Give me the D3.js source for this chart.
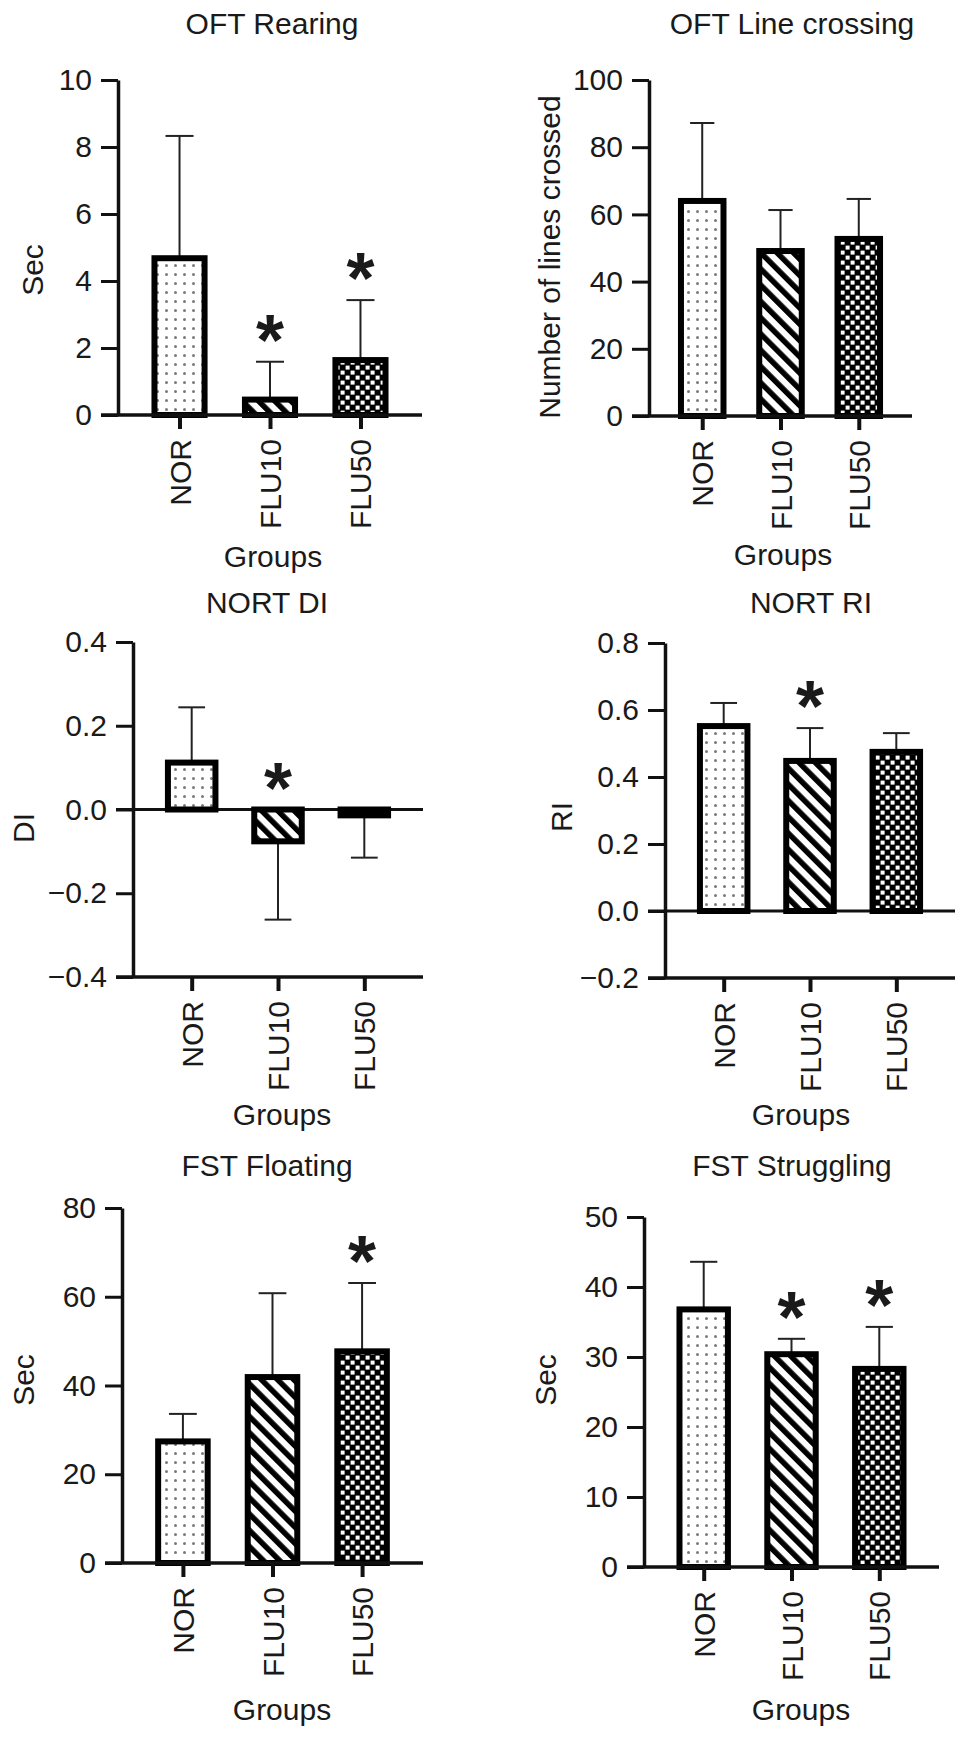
<!DOCTYPE html>
<html lang="en">
<head>
    <meta charset="UTF-8">
    <title>OFT, NORT and FST by group</title>
    <script src="https://d3js.org/d3.v7.min.js"></script>
    <style>
        body { margin: 0; background: #fff; }
        svg text { font-family: "Liberation Sans", Arial, Helvetica, sans-serif; fill: #1a1a1a; }
        .title, .ylab, .xlab { font-size: 30px; }
        .axis text { font-size: 30px; font-family: "Liberation Sans", Arial, sans-serif; fill: #1a1a1a; }
        .axis line, .axis path { stroke: #111; }
        .star { font-size: 72px; font-weight: bold; text-anchor: middle; }
    </style>
</head>
<body>
    <svg id="fig" width="969" height="1739"></svg>
    <script>
        const groups = ["NOR", "FLU10", "FLU50"];

        // OFT Rearing (Sec)
        const rearingMean = [4.68, 0.46, 1.64];
        const rearingSD = [3.65, 1.13, 1.79];
        const rearingSig = [false, true, true];
        const rearingTicks = [0, 2, 4, 6, 8, 10];

        // OFT Line crossing (number of lines crossed)
        const crossingMean = [64.0, 49.1, 52.7];
        const crossingSD = [23.2, 12.2, 11.9];
        const crossingSig = [false, false, false];
        const crossingTicks = [0, 20, 40, 60, 80, 100];

        // NORT discrimination index
        const diMean = [0.112, -0.076, -0.014];
        const diSD = [0.132, 0.187, 0.101];
        const diSig = [false, true, false];
        const diTicks = [-0.4, -0.2, 0.0, 0.2, 0.4];

        // NORT recognition index
        const riMean = [0.552, 0.448, 0.475];
        const riSD = [0.069, 0.098, 0.056];
        const riSig = [false, true, false];
        const riTicks = [-0.2, 0.0, 0.2, 0.4, 0.6, 0.8];

        // FST Floating (Sec)
        const floatingMean = [27.4, 41.9, 47.7];
        const floatingSD = [6.2, 18.9, 15.4];
        const floatingSig = [false, false, true];
        const floatingTicks = [0, 20, 40, 60, 80];

        // FST Struggling (Sec)
        const strugglingMean = [36.8, 30.4, 28.3];
        const strugglingSD = [6.8, 2.2, 6.0];
        const strugglingSig = [false, true, true];
        const strugglingTicks = [0, 10, 20, 30, 40, 50];

        const patterns = ["url(#dots)", "url(#stripes)", "url(#checks)"];

        const panels = [
            { title: "OFT Rearing", ylab: "Sec", mean: rearingMean, sd: rearingSD, sig: rearingSig, ticks: rearingTicks, fmt: d3.format("d"),
              box: { x0: 118, x1: 422, yTop: 80, yBot: 415, tx: 272, ty: 34, lx: 32, ly: 270, gx: 273, gy: 567 } },
            { title: "OFT Line crossing", ylab: "Number of lines crossed", mean: crossingMean, sd: crossingSD, sig: crossingSig, ticks: crossingTicks, fmt: d3.format("d"),
              box: { x0: 649, x1: 912, yTop: 80, yBot: 416, tx: 792, ty: 34, lx: 549, ly: 257, gx: 783, gy: 565 } },
            { title: "NORT DI", ylab: "DI", mean: diMean, sd: diSD, sig: diSig, ticks: diTicks, fmt: d3.format(".1f"),
              box: { x0: 133, x1: 423, yTop: 642, yBot: 977, tx: 267, ty: 613, lx: 23, ly: 828, gx: 282, gy: 1125 } },
            { title: "NORT RI", ylab: "RI", mean: riMean, sd: riSD, sig: riSig, ticks: riTicks, fmt: d3.format(".1f"),
              box: { x0: 665, x1: 955, yTop: 643, yBot: 978, tx: 811, ty: 613, lx: 561, ly: 817, gx: 801, gy: 1125 } },
            { title: "FST Floating", ylab: "Sec", mean: floatingMean, sd: floatingSD, sig: floatingSig, ticks: floatingTicks, fmt: d3.format("d"),
              box: { x0: 122, x1: 423, yTop: 1208, yBot: 1563, tx: 267, ty: 1176, lx: 23, ly: 1380, gx: 282, gy: 1720 } },
            { title: "FST Struggling", ylab: "Sec", mean: strugglingMean, sd: strugglingSD, sig: strugglingSig, ticks: strugglingTicks, fmt: d3.format("d"),
              box: { x0: 644, x1: 939, yTop: 1217, yBot: 1567, tx: 792, ty: 1176, lx: 545, ly: 1380, gx: 801, gy: 1720 } }
        ];

        const svg = d3.select("#fig");
        const defs = svg.append("defs");

        const dots = defs.append("pattern").attr("id", "dots")
            .attr("patternUnits", "userSpaceOnUse").attr("width", 9).attr("height", 9);
        dots.append("rect").attr("width", 9).attr("height", 9).attr("fill", "#fff");
        dots.append("circle").attr("cx", 4.5).attr("cy", 4.5).attr("r", 1.5).attr("fill", "#7a7a7a");

        const stripes = defs.append("pattern").attr("id", "stripes")
            .attr("patternUnits", "userSpaceOnUse").attr("width", 11.5).attr("height", 11.5)
            .attr("patternTransform", "rotate(-45)");
        stripes.append("rect").attr("width", 11.5).attr("height", 11.5).attr("fill", "#fff");
        stripes.append("rect").attr("width", 5.5).attr("height", 11.5).attr("fill", "#000");

        const checks = defs.append("pattern").attr("id", "checks")
            .attr("patternUnits", "userSpaceOnUse").attr("width", 10).attr("height", 10);
        checks.append("rect").attr("width", 10).attr("height", 10).attr("fill", "#000");
        checks.append("rect").attr("x", 0.6).attr("y", 0.6).attr("width", 4).attr("height", 4).attr("fill", "#fff");
        checks.append("rect").attr("x", 5.6).attr("y", 5.6).attr("width", 4).attr("height", 4).attr("fill", "#fff");

        const tickLen = 17;
        const barStroke = 6;

        panels.forEach(p => {
            const b = p.box;
            const g = svg.append("g");

            const y = d3.scaleLinear()
                .domain([p.ticks[0], p.ticks[p.ticks.length - 1]])
                .range([b.yBot, b.yTop]);
            const x = d3.scalePoint()
                .domain(groups)
                .range([b.x0, b.x1])
                .padding(0.68);
            const bw = x.step() * 0.62;

            const rows = groups.map((name, i) => ({ name, v: p.mean[i], sd: p.sd[i], sig: p.sig[i], fill: patterns[i] }));

            // error bars (one-sided, away from zero)
            const errEnd = d => d.v >= 0 ? d.v + d.sd : d.v - d.sd;
            g.selectAll(".err").data(rows).enter().append("line")
                .attr("x1", d => x(d.name)).attr("x2", d => x(d.name))
                .attr("y1", d => y(d.v)).attr("y2", d => y(errEnd(d)))
                .attr("stroke", "#222").attr("stroke-width", 2);
            g.selectAll(".cap").data(rows).enter().append("line")
                .attr("x1", d => x(d.name) - bw * 0.25).attr("x2", d => x(d.name) + bw * 0.25)
                .attr("y1", d => y(errEnd(d))).attr("y2", d => y(errEnd(d)))
                .attr("stroke", "#222").attr("stroke-width", 2);

            // y axis
            const yAxis = g.append("g").attr("class", "axis")
                .attr("transform", `translate(${b.x0},0)`)
                .call(d3.axisLeft(y).tickValues(p.ticks).tickFormat(p.fmt)
                    .tickSize(tickLen).tickPadding(9).tickSizeOuter(0));
            yAxis.select(".domain").attr("stroke-width", 3.5);
            yAxis.selectAll(".tick line").attr("stroke-width", 3);
            yAxis.selectAll("text").attr("font-size", 30).attr("font-family", null);

            // zero line where the axis does not start at zero
            if (p.ticks[0] < 0) {
                g.append("line")
                    .attr("x1", b.x0 - tickLen).attr("x2", b.x1)
                    .attr("y1", y(0)).attr("y2", y(0))
                    .attr("stroke", "#111").attr("stroke-width", 3);
            }

            // bars
            g.selectAll(".bar").data(rows).enter().append("rect")
                .attr("x", d => x(d.name) - bw / 2 + barStroke / 2)
                .attr("width", bw - barStroke)
                .attr("y", d => y(Math.max(0, d.v)))
                .attr("height", d => Math.abs(y(d.v) - y(0)))
                .attr("fill", d => d.fill)
                .attr("stroke", "#000").attr("stroke-width", barStroke);

            // x axis
            const xAxis = g.append("g").attr("class", "axis")
                .attr("transform", `translate(0,${b.yBot})`)
                .call(d3.axisBottom(x).tickSize(14).tickSizeOuter(0));
            xAxis.select(".domain").remove();
            xAxis.selectAll(".tick line").attr("stroke-width", 4);
            xAxis.selectAll("text")
                .attr("font-size", 30).attr("font-family", null)
                .attr("transform", "rotate(-90)")
                .attr("x", -24).attr("y", 0).attr("dy", "0.35em")
                .attr("text-anchor", "end");
            g.append("line")
                .attr("x1", b.x0 - tickLen).attr("x2", b.x1)
                .attr("y1", b.yBot).attr("y2", b.yBot)
                .attr("stroke", "#111").attr("stroke-width", 3.5);

            // significance stars
            g.selectAll(".star").data(rows.filter(d => d.sig)).enter().append("text")
                .attr("class", "star")
                .attr("x", d => x(d.name))
                .attr("y", d => (d.v >= 0 ? y(errEnd(d)) : y(0)) - 38 + 0.57 * 72)
                .text("*");

            // titles and labels
            g.append("text").attr("class", "title")
                .attr("x", b.tx).attr("y", b.ty).attr("text-anchor", "middle")
                .text(p.title);
            g.append("text").attr("class", "ylab")
                .attr("transform", `translate(${b.lx + 10.7},${b.ly}) rotate(-90)`)
                .attr("text-anchor", "middle")
                .text(p.ylab);
            g.append("text").attr("class", "xlab")
                .attr("x", b.gx).attr("y", b.gy).attr("text-anchor", "middle")
                .text("Groups");
        });
    </script>
</body>
</html>
